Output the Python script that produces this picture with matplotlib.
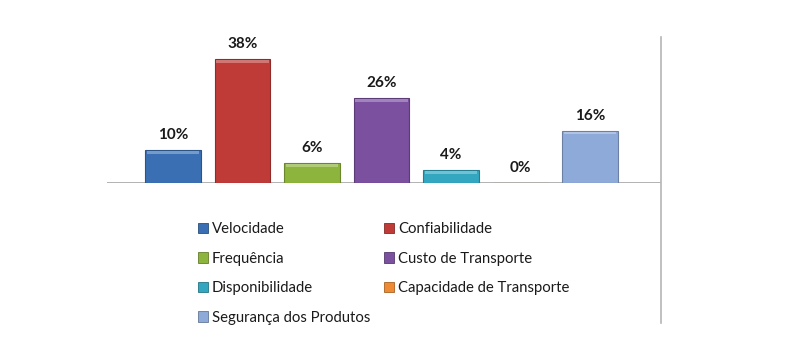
import matplotlib
matplotlib.use("Agg")
import matplotlib.pyplot as plt
from matplotlib.lines import Line2D
from matplotlib.patches import Patch
from matplotlib.colors import to_rgb
import numpy as np

plt.rcParams['font.family'] = ['Lato', 'DejaVu Sans']

# --- data --- #
categorias = ["Velocidade", "Confiabilidade", "Frequência", "Custo de Transporte",
              "Disponibilidade", "Capacidade de Transporte", "Segurança dos Produtos"]
valores = [10, 38, 6, 26, 4, 0, 16]
cores = ["#3A70B3", "#BE3B38", "#8DB43C", "#7A509F", "#33A6C0", "#EE8A34", "#8EAAD8"]


def clarear(c, f):
	r, g, b = to_rgb(c)
	return (r + (1 - r)*f, g + (1 - g)*f, b + (1 - b)*f)


def escurecer(c, f):
	r, g, b = to_rgb(c)
	return (r*(1 - f), g*(1 - f), b*(1 - f))


fig = plt.figure(figsize=(7.86, 3.49), dpi=100)
ax = fig.add_axes([107/786, 1 - 183/349, (661 - 107)/786, (183 - 37)/349])

x = np.arange(len(valores))
larg = 0.8
ax.bar(x, valores, width=larg, color=cores, edgecolor=[escurecer(c, 0.25) for c in cores],
       linewidth=0.8, zorder=2)
# faixa clara no topo (efeito bisel)
for xi, v, c in zip(x, valores, cores):
	if v > 0:
		ax.bar(xi, 0.9, bottom=v - 1.1, width=larg*0.94, color=clarear(c, 0.3),
		       linewidth=0, zorder=3)

for xi, v in zip(x, valores):
	ax.annotate("%d%%" % v, (xi, v), xytext=(0, 6), textcoords="offset points",
	            ha="center", va="bottom", fontsize=11, fontweight="bold", color="#1a1a1a")

ax.set_xlim(-0.95, 7.02)
ax.set_ylim(0, 44.8)
ax.axhline(0, color="#A6A6A6", linewidth=1.2, zorder=1)
for s in ax.spines.values():
	s.set_visible(False)
ax.set_xticks([])
ax.set_yticks([])
ax.patch.set_alpha(0)

# linha vertical da borda da área do gráfico
fig.add_artist(Line2D([661/786, 661/786], [1 - 323/349, 1 - 37/349],
                      transform=fig.transFigure, color="#B5B5B5", linewidth=1.2))

# legenda (ordem por linhas, 2 colunas)
handles = [Patch(facecolor=c, edgecolor=escurecer(c, 0.3), linewidth=0.6) for c in cores]
ordem = [0, 2, 4, 6, 1, 3, 5]
fig.legend([handles[i] for i in ordem], [categorias[i] for i in ordem],
           ncol=2, loc="upper left", bbox_to_anchor=(198/786, 1 - 222/349),
           frameon=False, fontsize=10.7, handlelength=0.7, handleheight=0.7,
           handletextpad=0.25, labelspacing=1.05, columnspacing=0.9, borderpad=0,
           borderaxespad=0, labelcolor="#1a1a1a")

fig.savefig("out.png", dpi=100)
